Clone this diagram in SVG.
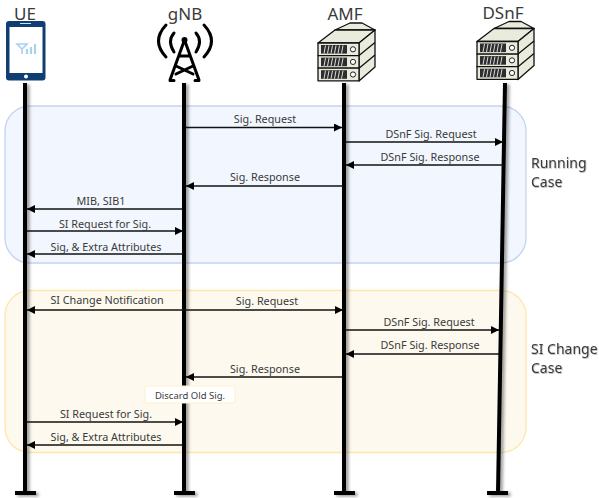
<svg xmlns="http://www.w3.org/2000/svg" width="599" height="498" viewBox="0 0 599 498">
<style>
text{font-family:"Noto Sans","Open Sans","Liberation Sans",sans-serif;fill:#3a3a3a}
.m{font-size:10.800px;text-anchor:middle}
.h{font-size:17px;text-anchor:middle}
.c{font-size:14px}
.msg{stroke:#111;stroke-width:1.600;fill:none}
.life{stroke:#000;stroke-width:4;fill:none}
.srv{stroke:#111;stroke-width:1.300;fill:#e9ebdc;stroke-linejoin:round}
.tow{stroke:#000;stroke-width:3;fill:none;stroke-linecap:round}
</style>
<defs>
<marker id="a" markerUnits="userSpaceOnUse" markerWidth="9" markerHeight="8" refX="8" refY="4" orient="auto-start-reverse"><path d="M0 0L8 4L0 8Z" fill="#000"/></marker>
<filter id="sh" filterUnits="userSpaceOnUse" x="0" y="60" width="599" height="438"><feDropShadow dx="2.500" dy="1.500" stdDeviation="1.400" flood-color="#000" flood-opacity=".4"/></filter>
<filter id="ts" x="-5%" y="-10%" width="110%" height="130%"><feDropShadow dx=".6" dy=".8" stdDeviation=".5" flood-color="#000" flood-opacity=".3"/></filter>
<g id="u"><rect class="srv" x="-26" y="-38" width="41" height="12.600"/><rect x="-23" y="-36" width="26" height="8.600" fill="#2d2d2d"/><path d="M-20 -27.500l1.500 -8M-16.500 -27.500l1.500 -8M-13 -27.500l1.500 -8M-9.500 -27.500l1.500 -8M-6 -27.500l1.500 -8M-2.500 -27.500l1.500 -8" stroke="#ddd" stroke-width="1"/><circle cx="9" cy="-31.700" r="2.600" fill="#fff" stroke="#222"/></g>
<g id="rack">
<path class="srv" d="M-9 -51L6 -58H18L31 -51Z"/>
<path class="srv" d="M-26 -38L-9 -51H31L15 -38Z"/>
<path class="srv" d="M15 -38L31 -51V-14L15 0Z"/>
<path class="srv" fill="none" d="M15 -25.400L31 -38.500M15 -12.800L31 -26"/>
<use href="#u"/><use href="#u" y="12.600"/><use href="#u" y="25.200"/>
</g>
</defs>
<g id="regions">
<rect x="5" y="106" width="521" height="157" rx="25" fill="#f2f6fe" stroke="#c3d4ef" stroke-width="1.300"/>
<rect x="5" y="290.500" width="521" height="162" rx="25" fill="#fdf9ee" stroke="#fde7ad" stroke-width="1.300"/>
</g>
<g id="connectors">
<g filter="url(#sh)">
<path class="life" d="M25 83V493"/>
<path class="life" d="M184 83V493"/>
<path class="life" d="M344 83V493"/>
<path class="life" d="M505 83L498 493"/>
<path class="life" d="M15 493H36M174 493H195M334 493H355M487 493H508"/>
</g>
<path class="msg" marker-end="url(#a)" d="M186 127.500H342"/>
<path class="msg" marker-end="url(#a)" d="M346 142H503"/>
<path class="msg" marker-end="url(#a)" d="M503 165H346"/>
<path class="msg" marker-end="url(#a)" d="M343 186H186"/>
<path class="msg" marker-end="url(#a)" d="M183 209H27"/>
<path class="msg" marker-end="url(#a)" d="M27 231H183"/>
<path class="msg" marker-end="url(#a)" d="M183 254H27"/>
<path class="msg" marker-start="url(#a)" marker-end="url(#a)" d="M27 310H343"/>
<path class="msg" marker-end="url(#a)" d="M346 330H499"/>
<path class="msg" marker-end="url(#a)" d="M499 354H346"/>
<path class="msg" marker-end="url(#a)" d="M343 377H186"/>
<path class="msg" marker-end="url(#a)" d="M27 422H183"/>
<path class="msg" marker-end="url(#a)" d="M183 445H27"/>
</g>
<g id="labels">
<text class="m" x="265" y="123">Sig. Request</text>
<text class="m" x="431" y="138">DSnF Sig. Request</text>
<text class="m" x="430" y="161">DSnF Sig. Response</text>
<text class="m" x="265" y="181">Sig. Response</text>
<text class="m" x="101" y="205">MIB, SIB1</text>
<text class="m" x="105" y="228">SI Request for Sig.</text>
<text class="m" x="106" y="251">Sig, &amp; Extra Attributes</text>
<text class="m" x="107" y="304">SI Change Notification</text>
<text class="m" x="267" y="305">Sig. Request</text>
<text class="m" x="429" y="326">DSnF Sig. Request</text>
<text class="m" x="430" y="349">DSnF Sig. Response</text>
<text class="m" x="265" y="373">Sig. Response</text>
<text class="m" x="106" y="418">SI Request for Sig.</text>
<text class="m" x="106" y="441">Sig, &amp; Extra Attributes</text>
<text class="c" x="531" y="168" filter="url(#ts)">Running</text>
<text class="c" x="531" y="187" filter="url(#ts)">Case</text>
<text class="c" x="531" y="354" filter="url(#ts)">SI Change</text>
<text class="c" x="531" y="373" filter="url(#ts)">Case</text>
</g>
<g id="discard">
<rect x="145" y="386" width="90" height="17" rx="2" fill="#fff" stroke="#fdf0cc"/>
<text class="m" x="190" y="399" style="font-size:9.500px">Discard Old Sig.</text>
</g>
<g id="ue">
<text class="h" x="25" y="20">UE</text>
<rect x="6" y="21" width="39.500" height="59.500" rx="3" fill="#0f3f72"/>
<rect x="9.500" y="27" width="33" height="46" fill="#fff"/>
<path d="M20 23.500H31" stroke="#cfe0ee" stroke-width="1"/>
<circle cx="26" cy="76.500" r="2" fill="#fff"/>
<path d="M17 44H27L22 49ZM22 48V54" fill="none" stroke="#a9d2ec" stroke-width="1.600"/>
<path d="M27 54V49M31 54V47M35 54V44" stroke="#a9d2ec" stroke-width="2.200"/>
</g>
<g id="gnb">
<text class="h" x="185" y="20">gNB</text>
<circle cx="184.500" cy="40" r="3" fill="#000"/>
<path class="tow" d="M184.500 40L170 80M184.500 40L199 80M176 66L193 74M193 66L176 74M179 56H190M170 80.500H174M195 80.500H199"/>
<path class="tow" d="M174 33Q167 41 174 52M196 33Q203 41 196 52M166 25Q151 41 166 57M204 25Q219 41 204 57"/>
</g>
<g id="amf">
<text class="h" x="345" y="20">AMF</text>
<use href="#rack" x="344" y="81"/>
</g>
<g id="dsnf">
<text class="h" x="503" y="19">DSnF</text>
<use href="#rack" x="503" y="79.500"/>
</g>
</svg>
